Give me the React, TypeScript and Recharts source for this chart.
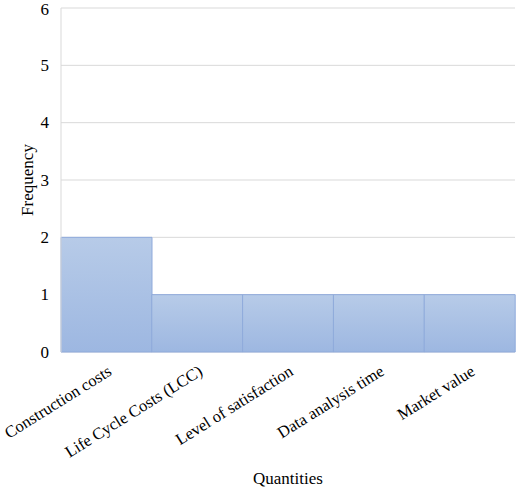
import React from 'react';
import { BarChart, Bar, XAxis, YAxis, CartesianGrid, Label } from 'recharts';

const quantities = [
  'Construction costs',
  'Life Cycle Costs (LCC)',
  'Level of satisfaction',
  'Data analysis time',
  'Market value',
];
const frequencies = [2, 1, 1, 1, 1];
const yTicks = [0, 1, 2, 3, 4, 5, 6];

const data = quantities.map((name, i) => ({ name, value: frequencies[i] }));

const FONT = '"Liberation Serif", "Times New Roman", serif';

// slanted category labels, anchored at their end just under the bar centre
const SlantTick = (props: any) => {
  const { x, y, payload } = props;
  const tx = x;
  const ty = y + 4;
  return (
    <text
      x={tx}
      y={ty}
      transform={`rotate(-32, ${tx}, ${ty})`}
      textAnchor="end"
      dominantBaseline="hanging"
      fontFamily={FONT}
      fontSize={16.5}
      fill="#000"
    >
      {payload.value}
    </text>
  );
};

const ValueTick = (props: any) => {
  const { x, y, payload } = props;
  return (
    <text
      x={x - 4}
      y={y}
      textAnchor="end"
      dominantBaseline="central"
      fontFamily={FONT}
      fontSize={17}
      fill="#000"
    >
      {payload.value}
    </text>
  );
};

export default function App() {
  return (
    <div
      style={{
        position: 'absolute',
        left: 0,
        top: 0,
        width: 520,
        height: 489,
        background: '#fff',
        fontFamily: FONT,
      }}
    >
      <BarChart
        width={520}
        height={489}
        data={data}
        margin={{ top: 8, right: 5, bottom: 27, left: 21 }}
        barCategoryGap={0}
        barGap={0}
      >
        <defs>
          <linearGradient id="barFill" x1="0" y1="0" x2="0" y2="1">
            <stop offset="0%" stopColor="#b7cbe8" />
            <stop offset="100%" stopColor="#9db7e1" />
          </linearGradient>
        </defs>
        <CartesianGrid vertical={false} stroke="#d9d9d9" />
        <XAxis
          dataKey="name"
          height={110}
          axisLine={false}
          tickLine={false}
          interval={0}
          tick={<SlantTick />}
        >
          <Label
            value="Quantities"
            position="insideBottom"
            offset={-22}
            style={{ fontFamily: FONT, fontSize: 17, fill: '#000' }}
          />
        </XAxis>
        <YAxis
          width={40}
          domain={[0, 6]}
          ticks={yTicks}
          axisLine={{ stroke: '#d9d9d9' }}
          tickLine={false}
          tick={<ValueTick />}
        >
          <Label
            value="Frequency"
            angle={-90}
            position="insideLeft"
            offset={6}
            style={{ fontFamily: FONT, fontSize: 17, fill: '#000', textAnchor: 'middle' }}
          />
        </YAxis>
        <Bar
          dataKey="value"
          fill="url(#barFill)"
          stroke="#8faadb"
          strokeWidth={1}
          isAnimationActive={false}
        />
      </BarChart>
    </div>
  );
}
